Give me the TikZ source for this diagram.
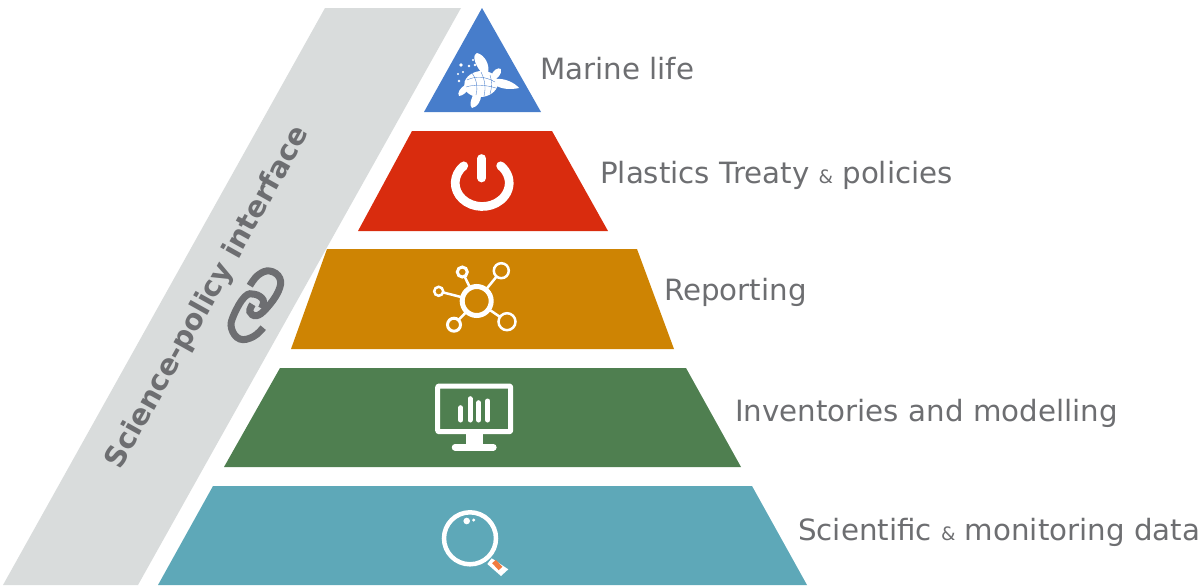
\documentclass[tikz,border=0pt]{standalone}
\usepackage{fontspec}
\setmainfont{DejaVu Sans}
\definecolor{bandgrey}{HTML}{D9DCDC}
\definecolor{textgrey}{HTML}{6D6E71}
\definecolor{marineblue}{HTML}{477DCB}
\definecolor{policyred}{HTML}{D92C0E}
\definecolor{reportorange}{HTML}{CE8403}
\definecolor{modelgreen}{HTML}{4F7F50}
\definecolor{datateal}{HTML}{5EA8B8}
\definecolor{tagorange}{HTML}{F07B3F}
\newcommand{\labelfont}{\fontsize{29.3}{32}\selectfont}
\newcommand{\ampfont}{\fontsize{18.5}{20}\selectfont}
\begin{document}
\begin{tikzpicture}[
        x=1pt, y=-1pt,
        level label/.style={anchor=base west, inner sep=0pt, text=textgrey, font=\labelfont},
        icon line/.style={draw=white, line cap=round, line join=round},
        hub/.style={circle, draw=white, inner sep=0pt, outer sep=0pt},
        flipper/.style={fill=white, draw=none},
        speck/.style={fill=white, draw=none}
        ]
            \useasboundingbox (0,0) rectangle (1200,587);

            % Band
            \fill [bandgrey] (325,8) -- (461,8) -- (138,585) -- (3,585) -- cycle;
            \node (band) at (208,298) [rotate=60.8, inner sep=0pt, text=textgrey,
                font=\fontsize{28.7}{32}\selectfont\bfseries] {Science-policy interface};

            % Chain
            \draw [textgrey, line width=7pt, line cap=butt, xshift=1.5pt] plot [smooth, tension=.7] coordinates
                {(248.3,285.7) (256.7,275) (268.3,271) (278.3,278.3) (276.7,291.7) (265,308.3) (255,315.7) (248.3,311.7) (251,304.3)};
            \draw [textgrey, line width=7pt, line cap=butt, xshift=1.5pt] plot [smooth, tension=.7] coordinates
                {(261.7,327.7) (251.7,336.7) (238.3,339) (230,328.3) (232.3,315) (243.3,296.7) (253.3,294.3) (261.7,300) (260,308.3)};

            % Levels
            \fill [marineblue]   (482,8) -- (541,112) -- (424,112) -- cycle;
            \fill [policyred]    (412,131) -- (552,131) -- (608,231) -- (358,231) -- cycle;
            \fill [reportorange] (327,249) -- (637,249) -- (674,349) -- (291,349) -- cycle;
            \fill [modelgreen]   (280,368) -- (686,368) -- (741,467) -- (224,467) -- cycle;
            \fill [datateal]     (213,486) -- (752,486) -- (807,585) -- (158,585) -- cycle;

            % Labels
            \node (marine)   at (540,79)  [level label] {Marine life};
            \node (treaty)   at (600,183) [level label] {Plastics Treaty {\ampfont\&} policies};
            \node (reporting) at (664,300) [level label] {Reporting};
            \node (inventory) at (735,421) [level label] {Inventories and modelling};
            \node (science)  at (798,540) [level label] {Scientific {\ampfont\&} monitoring data};

            % Turtle
            \fill [white, rotate around={8:(481,84)}] (481,84) ellipse [x radius=17, y radius=13];
            \fill [flipper] (481,72) .. controls (473,62) and (473,54) .. (477,53) .. controls (485,55) and (490,65) .. (488,73) -- cycle;
            \fill [flipper] (491,76) .. controls (493,70) and (498,67) .. (501,69) .. controls (502,75) and (497,79) .. (493,80) -- cycle;
            \fill [flipper] (496,79) .. controls (505,78) and (515,83) .. (519,88) .. controls (510,90) and (501,89) .. (495,85) -- cycle;
            \fill [flipper] (473,95) .. controls (471,100) and (469,105) .. (472,108) .. controls (478,107) and (481,100) .. (481,96) -- cycle;
            \fill [flipper] (465,85) .. controls (460,88) and (457,93) .. (459,96) .. controls (463,96) and (468,91) .. (469,88) -- cycle;
            \draw [marineblue, line width=.35pt]
                (467,80) .. controls (475,76) and (485,76) .. (495,82)
                (466,87) .. controls (475,84) and (486,85) .. (496,88)
                (472,73) .. controls (477,80) and (478,88) .. (476,95)
                (481,72) .. controls (485,80) and (486,88) .. (484,96)
                (490,75) .. controls (492,80) and (492,88) .. (490,94);
            \foreach \px/\py/\pr in {461/65/1.9, 469/66/1.4, 475/65/1.4, 473/60/1.1, 458/74/1.1, 463/72/1.1, 459/81/1.3}
                \fill [speck] (\px,\py) circle (\pr);

            % Power
            \draw [icon line, line width=8.7pt] (463.8,165.8) arc [start angle=133, end angle=407, x radius=27pt, y radius=23.5pt];
            \draw [icon line, line width=8.7pt] (481.7,158.5) -- (481.7,178);

            % Network
            \node (centre) at (476.7,301) [hub, line width=5pt, minimum size=29pt] {};
            \node (sat1) at (501.3,270.7) [hub, line width=2.5pt, minimum size=15pt] {};
            \node (sat2) at (507,321.7)   [hub, line width=2.5pt, minimum size=17pt] {};
            \node (sat3) at (454,324.7)   [hub, line width=3pt, minimum size=13pt] {};
            \node (sat4) at (462.3,272)   [hub, line width=3pt, minimum size=10pt] {};
            \node (sat5) at (438.7,291.3) [hub, line width=2.5pt, minimum size=9pt] {};
            \draw [white, line width=2.5pt]
                (centre) -- (sat1)
                (centre) -- (sat2)
                (centre) -- (sat3)
                (centre) -- (sat4)
                (centre) -- (sat5);

            % Monitor
            \draw [icon line, line width=5pt, rounded corners=1pt] (437.7,386) rectangle (510.7,431.7);
            \foreach \bx/\by in {460.7/405.7, 470/396.7, 478.7/400.7, 487.7/399}
                \draw [icon line, line width=5pt] (\bx,\by+2) -- (\bx,420);
            \fill [white] (465.7,432) rectangle (483.3,446);
            \draw [icon line, line width=6.5pt] (455,447.3) -- (493.4,447.3);

            % Magnifier
            \draw [white, line width=4.5pt] (470,538.3) circle (26);
            \fill [white] (466.7,521) circle (3.3) (473.7,520) circle (1.7);
            \fill [white] (491.7,558.3) -- (508.3,569.3) -- (501,576) -- (487.3,564) -- cycle;
            \draw [tagorange, line width=5pt] (494,561.5) -- (500.5,568.5);
        \end{tikzpicture}
\end{document}
